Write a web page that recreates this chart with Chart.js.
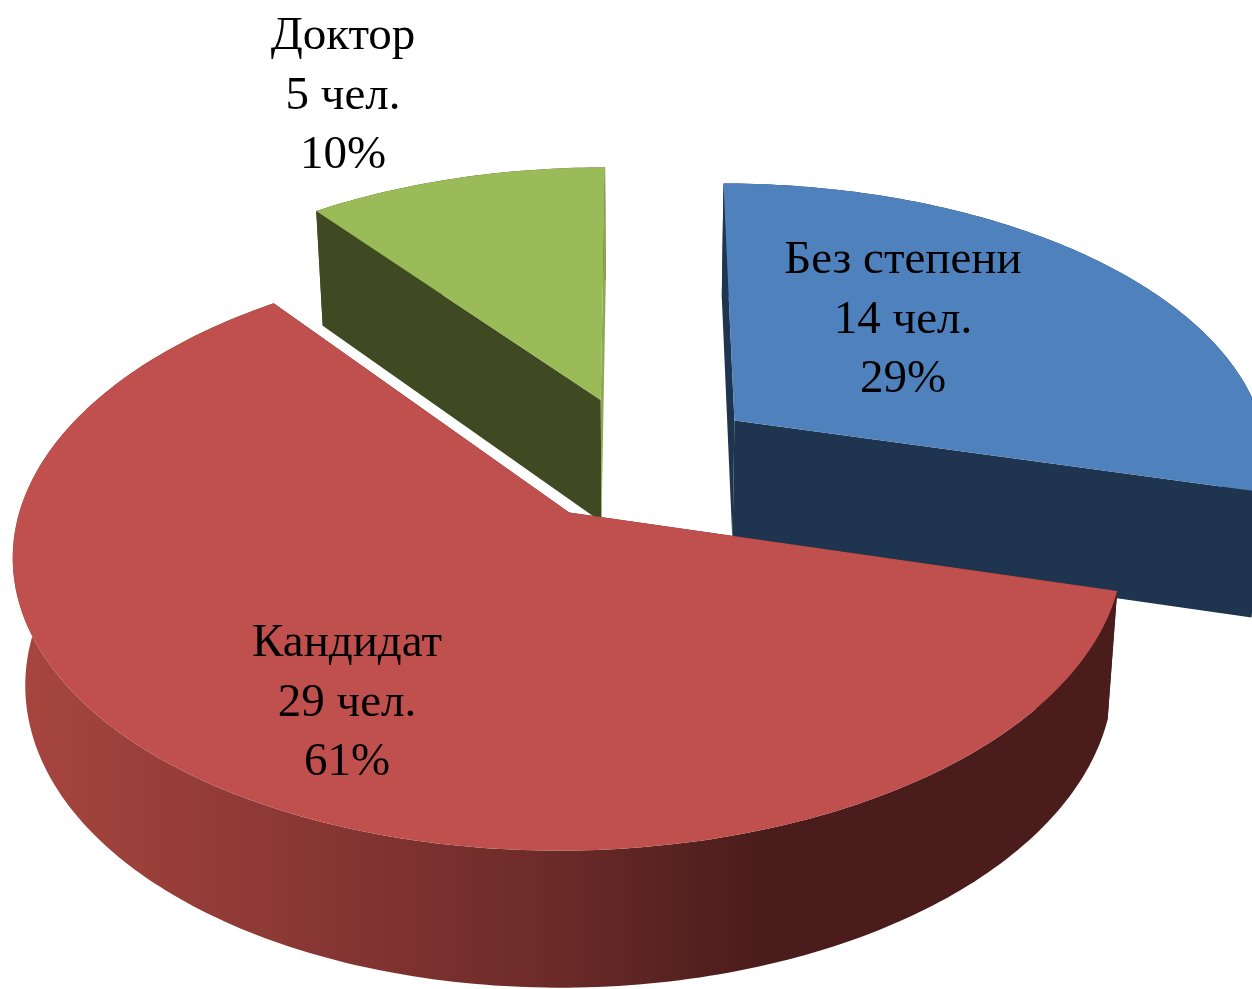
<!DOCTYPE html>
<html>
<head>
<meta charset="utf-8">
<style>
  html, body { margin: 0; padding: 0; background: #fff; overflow: hidden; }
  canvas { display: block; }
</style>
<script src="https://cdn.jsdelivr.net/npm/chart.js@4/dist/chart.umd.min.js"></script>
</head>
<body>
<canvas id="degreesChart" width="1252" height="989"></canvas>
<script>
// chart data
const categories = ["Без степени", "Кандидат", "Доктор"];
const counts = [14, 29, 5];
const percents = [29, 61, 10];

// colours
const topColors = ["#4F81BD", "#C0504D", "#9BBB59"];
const wallColors = ["#1F344E", null, "#3F4A22"];
const endFaceColors = ["#1F344E", "#4A1C1B", "#8CA850"];

// label centres, one per slice, and the order slices get painted (back to front)
const labelCentres = [[903, 261], [347, 644], [343, 37]];
const paintOrder = [2, 0, 1];

// the tilted camera: how the flat pie is laid onto the page
const scaleX = 1.303;
const scaleY = 0.675;
const perspective = 0.132;
const wallHeight = 124;
const wallPerspective = 0.08;
const bottomShrink = 0.98;

function project(arc, px, py, lower) {
  const w = 1 + perspective * py;
  let x = (scaleX * arc.outerRadius * px) / w;
  let y = (-scaleY * arc.outerRadius * py) / w;
  if (lower) {
    x *= bottomShrink;
    y += wallHeight / (1 + wallPerspective * py);
  }
  return [arc.x + x, arc.y + y];
}

// points around a slice in flat pie units, radius 1
function slicePoints(arc) {
  const mid = (arc.startAngle + arc.endAngle) / 2 + Math.PI / 2;
  const e = arc.options.offset / arc.outerRadius;
  const ox = e * Math.sin(mid);
  const oy = e * Math.cos(mid);
  const rim = [];
  const steps = Math.ceil((arc.endAngle - arc.startAngle) * 60);
  for (let i = 0; i <= steps; i++) {
    const t = arc.startAngle + ((arc.endAngle - arc.startAngle) * i) / steps + Math.PI / 2;
    rim.push([ox + Math.sin(t), oy + Math.cos(t)]);
  }
  return { apex: [ox, oy], rim: rim };
}

function fillPath(ctx, pts, color) {
  ctx.beginPath();
  pts.forEach((p, i) => (i ? ctx.lineTo(p[0], p[1]) : ctx.moveTo(p[0], p[1])));
  ctx.closePath();
  ctx.fillStyle = color;
  ctx.fill();
}

function redWallGradient(ctx) {
  const g = ctx.createLinearGradient(12, 0, 1115, 0);
  g.addColorStop(0, "#A8463F");
  g.addColorStop(0.25, "#8B3835");
  g.addColorStop(0.5, "#6A2A28");
  g.addColorStop(0.68, "#4A1C1B");
  g.addColorStop(1, "#4A1C1B");
  return g;
}

const pie3d = {
  id: "pie3d",
  // the library's flat arcs are swapped for the same arcs seen through the camera
  beforeDatasetsDraw(chart) {
    const ctx = chart.ctx;
    const arcs = chart.getDatasetMeta(0).data;
    paintOrder.forEach((i) => {
      const arc = arcs[i];
      const s = slicePoints(arc);
      const wall = wallColors[i] || redWallGradient(ctx);
      const up = (p) => project(arc, p[0], p[1], false);
      const down = (p) => project(arc, p[0], p[1], true);
      const first = s.rim[0];
      const last = s.rim[s.rim.length - 1];
      fillPath(ctx, [up(s.apex), up(first), down(first), down(s.apex)], wall);
      fillPath(ctx, s.rim.map(up).concat(s.rim.slice().reverse().map(down)), wall);
      fillPath(ctx, [up(s.apex), up(last), down(last), down(s.apex)], endFaceColors[i]);
      fillPath(ctx, [up(s.apex)].concat(s.rim.map(up)), arc.options.backgroundColor);
    });

    ctx.fillStyle = "#000";
    ctx.font = "47px 'Liberation Serif'";
    ctx.textAlign = "center";
    ctx.textBaseline = "middle";
    categories.forEach((name, i) => {
      const c = labelCentres[i];
      ctx.fillText(name, c[0], c[1]);
      ctx.fillText(counts[i] + " чел.", c[0], c[1] + 59.5);
      ctx.fillText(percents[i] + "%", c[0], c[1] + 119);
    });
    return false;
  },
};

new Chart(document.getElementById("degreesChart").getContext("2d"), {
  type: "pie",
  data: {
    labels: categories,
    datasets: [
      {
        data: counts,
        backgroundColor: topColors,
        borderWidth: 0,
        offset: 94,
      },
    ],
  },
  options: {
    responsive: false,
    animation: false,
    layout: { padding: { left: 26, bottom: 72 } },
    plugins: {
      legend: { display: false },
      tooltip: { enabled: false },
    },
  },
  plugins: [pie3d],
});
</script>
</body>
</html>
